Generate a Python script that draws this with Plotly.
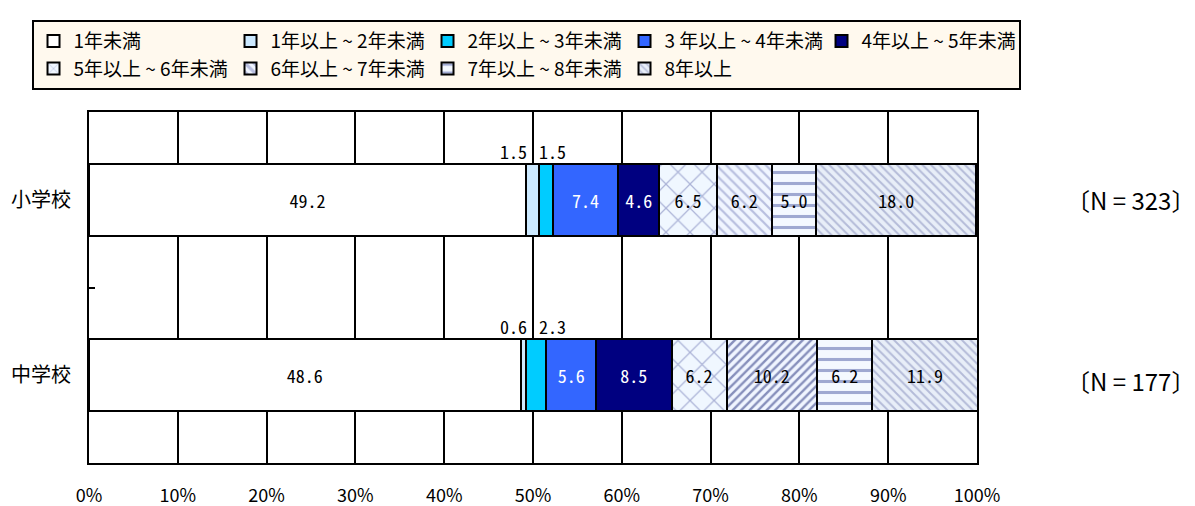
import plotly.graph_objects as go

# ---- data ----
categories = ["小学校", "中学校"]
n_labels = ["〔N = 323〕", "〔N = 177〕"]
series_names = [
    "1年未満", "1年以上 ~ 2年未満", "2年以上 ~ 3年未満", "3 年以上 ~ 4年未満",
    "4年以上 ~ 5年未満", "5年以上 ~ 6年未満", "6年以上 ~ 7年未満",
    "7年以上 ~ 8年未満", "8年以上",
]
v_lt1 = [49.2, 48.6]
v_1_2 = [1.5, 0.6]
v_2_3 = [1.5, 2.3]
v_3_4 = [7.4, 5.6]
v_4_5 = [4.6, 8.5]
v_5_6 = [6.5, 6.2]
v_6_7 = [6.2, 10.2]
v_7_8 = [5.0, 6.2]
v_8p = [18.0, 11.9]
series_values = [v_lt1, v_1_2, v_2_3, v_3_4, v_4_5, v_5_6, v_6_7, v_7_8, v_8p]
x_ticks = [0, 10, 20, 30, 40, 50, 60, 70, 80, 90, 100]
x_ticklabels = [f"{t}%" for t in x_ticks]

# ---- styles ----
CJK = "Noto Sans CJK JP"
MONO = "Noto Sans Mono CJK JP, Liberation Mono, monospace"
styles = [
    dict(color="#FFFFFF"),
    dict(color="#CCE9FF"),
    dict(color="#00CCFF"),
    dict(color="#3366FF"),
    dict(color="#000080"),
    dict(color="#F0F7FF", pattern=dict(shape="x", fgcolor="#6870B0", bgcolor="#F0F7FF",
                                       size=17, solidity=0.14)),
    dict(color="#F0F5FF", pattern=dict(shape=["\\", "/"], fgcolor=["#8088C0", "#1E2A78"],
                                       bgcolor="#F0F5FF", size=[7, 6], solidity=[0.32, 0.4])),
    dict(color="#F4F9FF", pattern=dict(shape="-", fgcolor="#4A5AA4", bgcolor="#F4F9FF",
                                       size=11, solidity=0.28)),
    dict(color="#E8EEF8", pattern=dict(shape="\\", fgcolor="#8088B8", bgcolor="#E8EEF8",
                                       size=6, solidity=0.32)),
]
text_colors = ["black", "black", "black", "white", "white", "black", "black", "black", "black"]
outside_label_series = [1, 2]

fig = go.Figure()
for i, (name, vals) in enumerate(zip(series_names, series_values)):
    marker = dict(styles[i])
    marker["line"] = dict(color="black", width=2)
    show_text = i not in outside_label_series
    fig.add_trace(go.Bar(
        name=name, y=categories, x=vals, orientation="h",
        marker=marker, width=0.413,
        text=[f"{v:.1f}" for v in vals] if show_text else None,
        textposition="inside" if show_text else "none",
        insidetextanchor="middle", textangle=0,
        insidetextfont=dict(family=MONO, size=18, color=text_colors[i]),
        hoverinfo="x+name",
    ))

# small-segment labels placed above the bars, flanking the 50% gridline
anns = []
for k, i in enumerate(outside_label_series):
    for c, v in zip(categories, series_values[i]):
        anns.append(dict(
            x=50, y=c, xref="x", yref="y", text=f"{v:.1f}", showarrow=False,
            xanchor="right" if k == 0 else "left", xshift=-4 if k == 0 else 4,
            yanchor="middle", yshift=49,
            font=dict(family=MONO, size=18, color="black"),
        ))
# N labels on the right
for c, t, ys in zip(categories, n_labels, [0, -5]):
    anns.append(dict(
        x=1.098, y=c, xref="paper", yref="y", text=t, showarrow=False,
        xanchor="left", yanchor="middle", yshift=ys,
        font=dict(family=CJK, size=24, color="black"),
    ))

# page body has an 8px margin; figure sized so it fills the rest of the window
fig.update_layout(
    barmode="stack",
    width=1187, height=498,
    margin=dict(l=81, r=218, t=102, b=43),
    paper_bgcolor="white", plot_bgcolor="white",
    font=dict(family=CJK, color="black"),
    annotations=anns,
    showlegend=True,
    legend=dict(
        orientation="h", x=1.049, y=1.262, xanchor="right", yanchor="top",
        entrywidth=152, entrywidthmode="pixels",
        bgcolor="#FFF9EE", bordercolor="black", borderwidth=2,
        font=dict(family=CJK, size=19, color="black"),
        traceorder="normal", itemwidth=30,
    ),
    xaxis=dict(
        range=[0, 100], tickvals=x_ticks, ticktext=x_ticklabels,
        showgrid=True, gridcolor="black", gridwidth=2,
        showline=True, linecolor="black", linewidth=2, mirror=True,
        zeroline=False, ticks="", ticklabelstandoff=15,
        tickfont=dict(family=CJK, size=18, color="black"),
        automargin=False, fixedrange=True,
    ),
    yaxis=dict(
        type="category", categoryorder="array", categoryarray=categories[::-1],
        range=[-0.5, 1.5],
        showgrid=False, showline=True, linecolor="black", linewidth=2, mirror=True,
        zeroline=False, tickson="boundaries", ticks="inside", ticklen=6,
        tickcolor="black", tickwidth=2, ticklabelstandoff=12,
        tickfont=dict(family=CJK, size=20, color="black"),
        automargin=False, fixedrange=True,
    ),
)

fig.write_html("out.html")
